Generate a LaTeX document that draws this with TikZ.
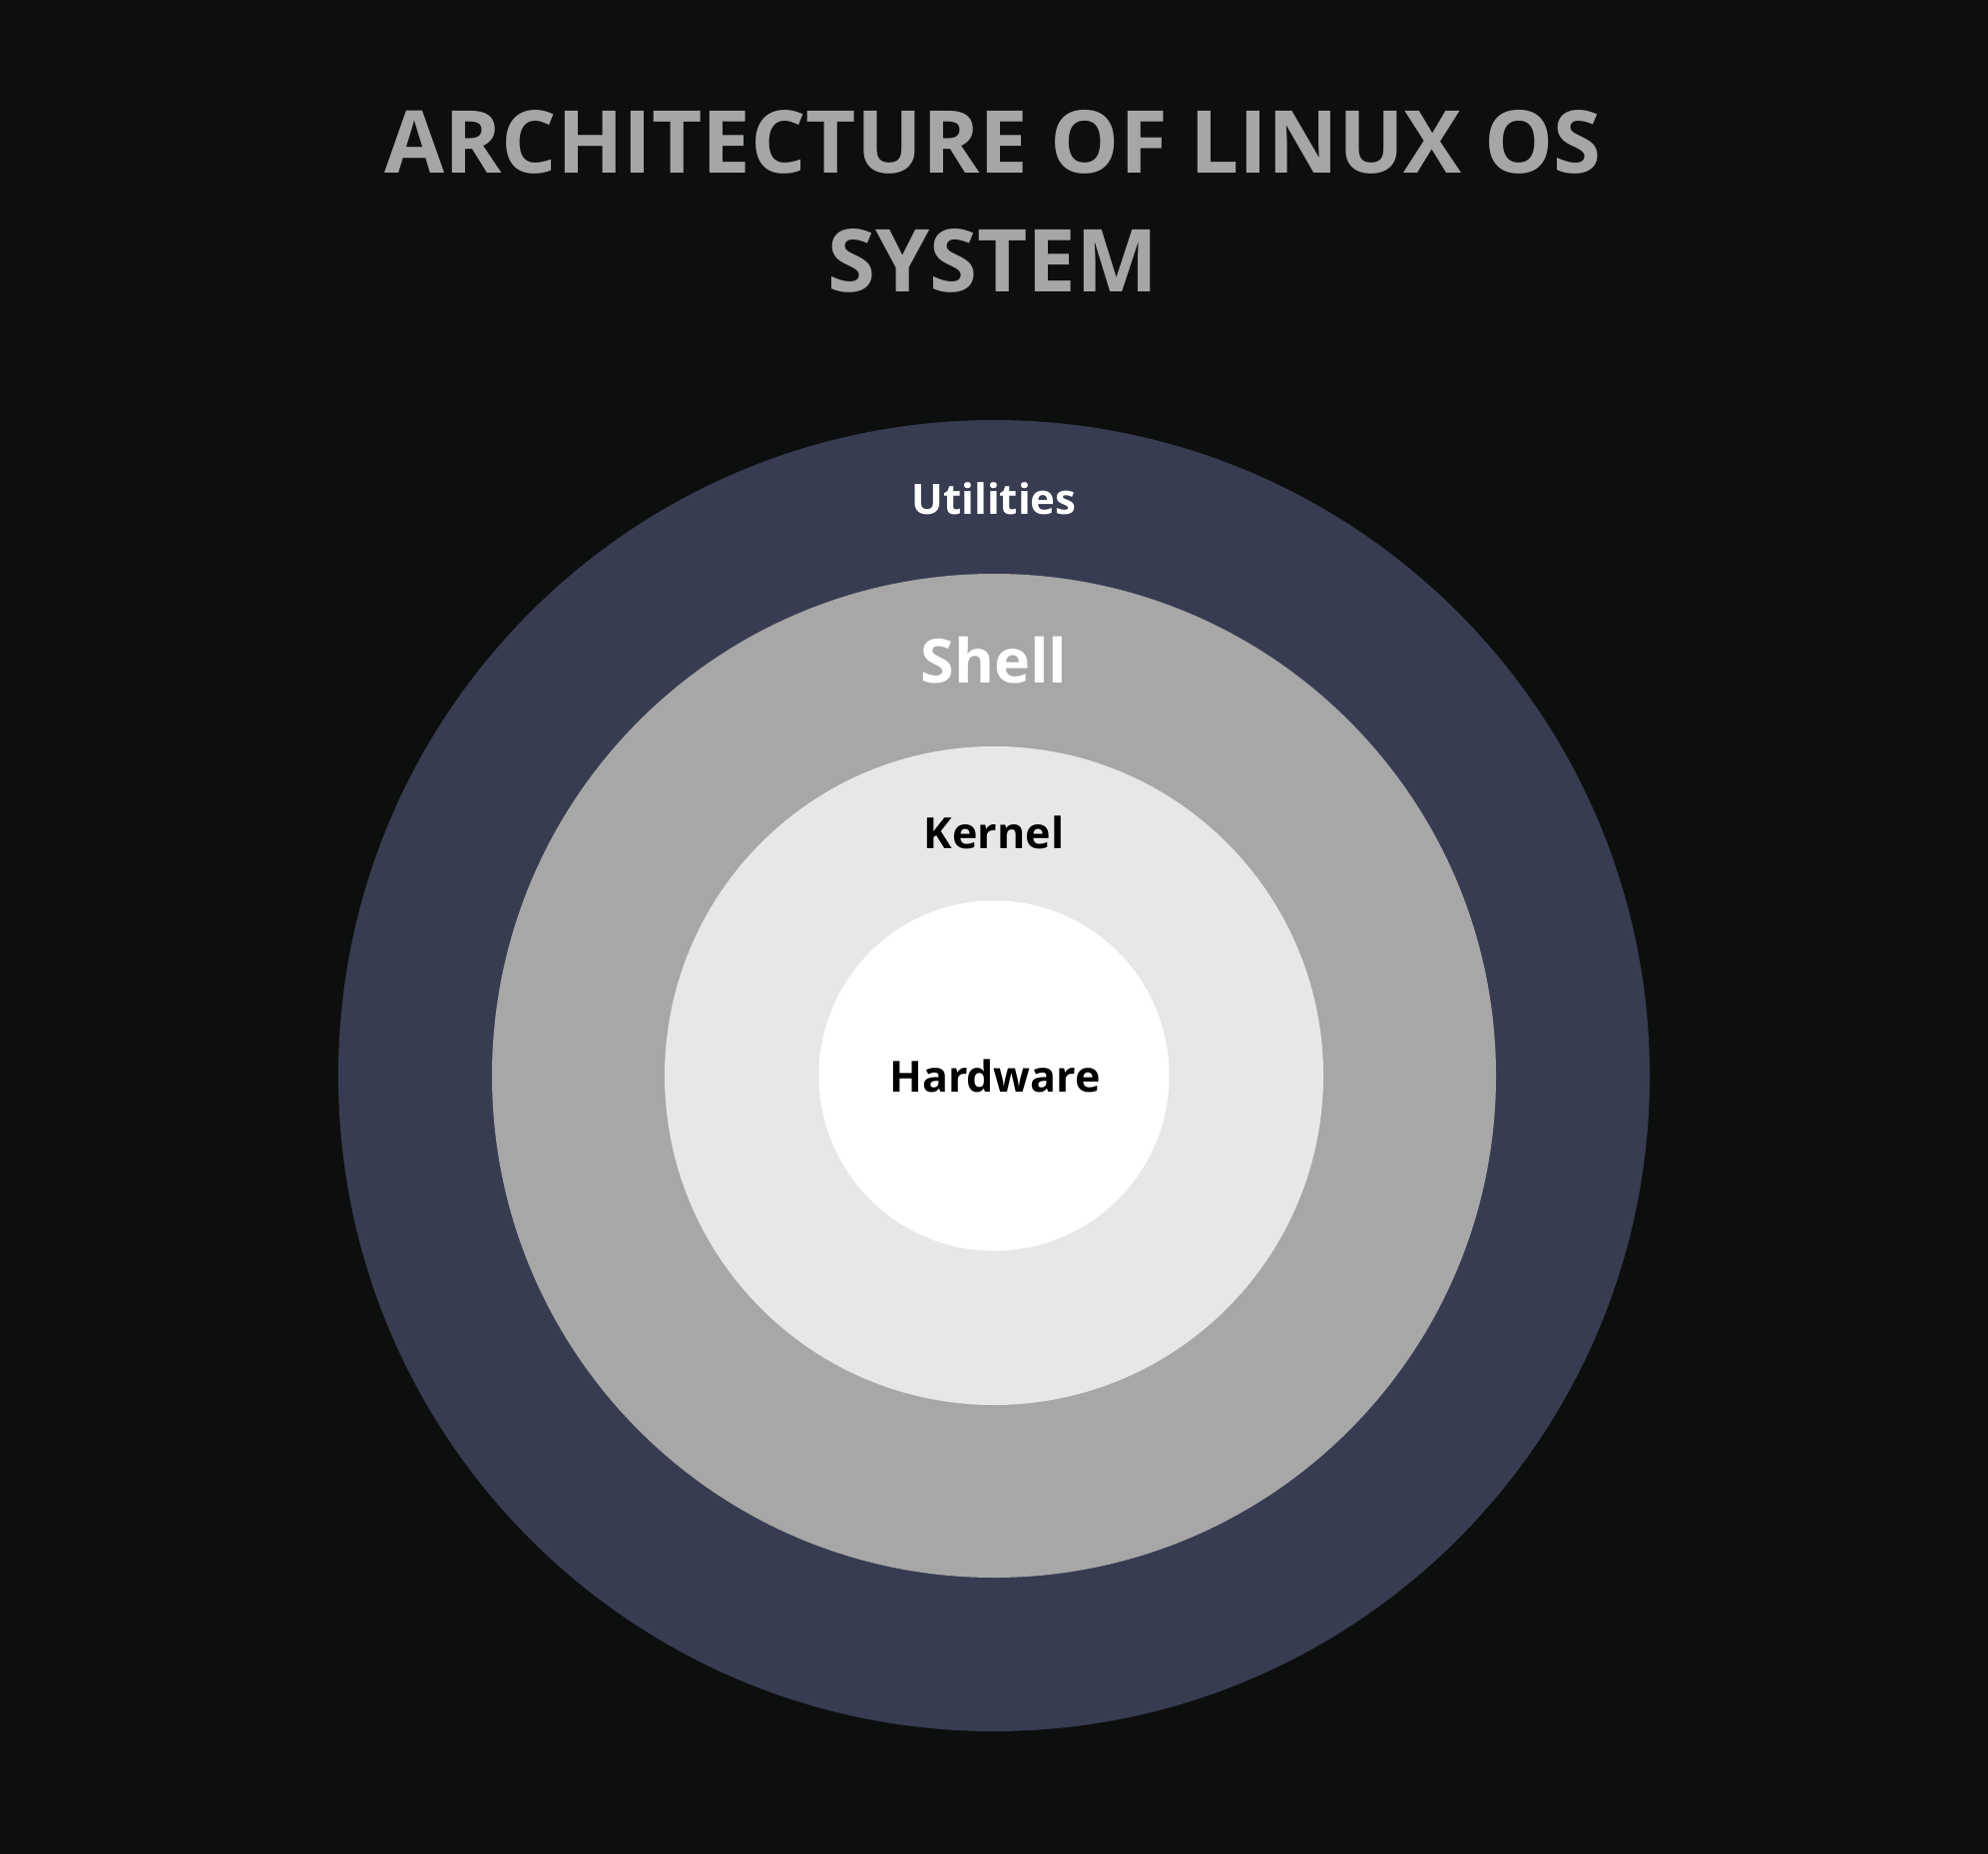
\documentclass[tikz,border=0pt]{standalone}
\usepackage{fontspec}
\setmainfont{Open Sans}
\definecolor{bgc}{HTML}{0D0F0F}
\definecolor{utilc}{HTML}{373C51}
\definecolor{shellc}{HTML}{A7A7A7}
\definecolor{kernc}{HTML}{E6E8E6}
\definecolor{titlec}{HTML}{A6A6A6}
\tikzset{
  ring/.style={circle, draw=none, inner sep=0pt},
  lbl/.style={anchor=base, inner sep=0pt, font=\bfseries},
}
\begin{document}
\begin{tikzpicture}[x=1pt,y=-1pt]
\fill[bgc] (0,0) rectangle (1992,1858);
\useasboundingbox (0,0) rectangle (1992,1858);
\node[lbl, text=titlec, font=\fontsize{87}{100}\selectfont\bfseries] (t1) at (995,173) {ARCHITECTURE OF LINUX OS};
\node[lbl, text=titlec, font=\fontsize{87}{100}\selectfont\bfseries] (t2) at (995,292) {SYSTEM};
\node[ring, fill=utilc, minimum size=1314pt] (util) at (996,1078) {};
\node[ring, fill=shellc, minimum size=1006pt] (shell) at (996,1078) {};
\node[ring, fill=kernc, minimum size=660pt] (kern) at (996,1078) {};
\node[ring, fill=white, minimum size=351pt] (hw) at (996,1078) {};
\node[lbl, text=white, font=\fontsize{42}{50}\selectfont\bfseries] (lu) at (996,515) {Utilities};
\node[lbl, text=white, font=\fontsize{61}{72}\selectfont\bfseries] (ls) at (996,684) {Shell};
\node[lbl, text=black, font=\fontsize{43}{50}\selectfont\bfseries] (lk) at (996,850) {Kernel};
\node[lbl, text=black, font=\fontsize{43}{50}\selectfont\bfseries] (lh) at (997,1094) {Hardware};
\end{tikzpicture}
\end{document}
